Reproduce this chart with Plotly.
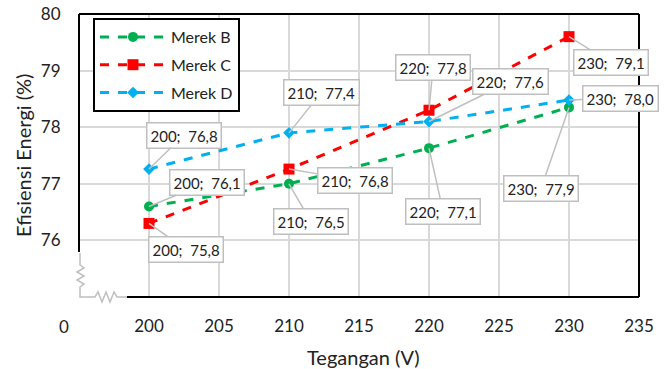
import plotly.graph_objects as go

voltage = [200, 210, 220, 230]
merek_b = [76.6, 77.0, 77.63, 78.35]
merek_c = [76.3, 77.26, 78.3, 79.6]
merek_d = [77.26, 77.9, 78.1, 78.48]
labels_b = ["200; 76,1", "210; 76,5", "220; 77,1", "230; 77,9"]
labels_c = ["200; 75,8", "210; 76,8", "220; 77,8", "230; 79,1"]
labels_d = ["200; 76,8", "210; 77,4", "220; 77,6", "230; 78,0"]
x_ticks = [200, 205, 210, 215, 220, 225, 230, 235]
y_ticks = [76, 77, 78, 79, 80]

# label box offsets (pixels) from points
off_b = [(58, -24), (22, 38), (14, 63), (-28, 81)]
off_c = [(37, 26), (66, 11), (4, -43), (42, 26)]
off_d = [(35, -34), (32, -40), (81, -40), (51, -2)]

FONT = "Lato, 'Open Sans', sans-serif"
fig = go.Figure()
series = [
    ("Merek B", merek_b, "#00B050", "circle", 10),
    ("Merek C", merek_c, "#FF0000", "square", 11),
    ("Merek D", merek_d, "#00B0F0", "diamond", 9),
]
for name, vals, col, sym, ms in series:
    fig.add_trace(go.Scatter(
        x=voltage, y=vals, name=name, mode="lines+markers", legendgroup=name,
        line=dict(color=col, width=3, dash="dash"),
        marker=dict(color=col, symbol=sym, size=ms),
    ))

annotations = []
for vals, labs, offs in [(merek_b, labels_b, off_b), (merek_c, labels_c, off_c), (merek_d, labels_d, off_d)]:
    for xv, yv, lab, (ax, ay) in zip(voltage, vals, labs, offs):
        annotations.append(dict(
            x=xv, y=yv, xref="x", yref="y", text=lab.replace("; ", ";\u00a0 "),
            showarrow=True, arrowhead=0, arrowwidth=1.5, arrowcolor="#BFBFBF",
            ax=ax, ay=ay, bgcolor="white", bordercolor="#BFBFBF", borderwidth=1.5,
            borderpad=3, font=dict(family=FONT, size=15, color="#222"),
        ))

L, R, T, B = 79, 639, 14, 297
W, H = 671, 369
def px(x):
    return (x - L) / (R - L)
def py(y):
    return 1 - (y - T) / (B - T)

annotations += [
    dict(x=px(64), y=py(326), xref="paper", yref="paper", text="0", showarrow=False,
         xanchor="center", yanchor="middle", font=dict(family=FONT, size=17, color="#222")),
    dict(x=px(363), y=py(357), xref="paper", yref="paper", text="Tegangan (V)", showarrow=False,
         xanchor="center", yanchor="middle", font=dict(family=FONT, size=20, color="#222")),
    dict(x=px(23), y=py(156), xref="paper", yref="paper", text="Efisiensi Energi (%)", showarrow=False,
         xanchor="center", yanchor="middle",
         textangle=-90, font=dict(family=FONT, size=20, color="#222")),
]

blk = dict(color="black", width=2)
gry = dict(color="#BFBFBF", width=1.5)
shapes = [
    dict(type="line", xref="paper", yref="paper", x0=0, x1=1, y0=1, y1=1, line=blk),
    dict(type="line", xref="paper", yref="paper", x0=1, x1=1, y0=0, y1=1, line=blk),
    dict(type="line", xref="paper", yref="paper", x0=0, x1=0, y0=py(252), y1=1, line=blk),
    dict(type="line", xref="paper", yref="paper", x0=px(127), x1=1, y0=0, y1=0, line=blk),
]
# axis break zigzags (gray)
vpath = "M {:.4f},{:.4f} L {:.4f},{:.4f}".format(px(80), py(253), px(80), py(265))
zz = [(84, 268), (77, 272), (84, 276), (77, 280), (84, 284), (80, 287), (80, 297), (95, 297)]
for xx, yy in zz:
    vpath += " L {:.4f},{:.4f}".format(px(xx), py(yy))
hz = [(98, 292), (102, 302), (106, 292), (110, 302), (114, 292), (117, 297), (127, 297)]
for xx, yy in hz:
    vpath += " L {:.4f},{:.4f}".format(px(xx), py(yy))
shapes.append(dict(type="path", xref="paper", yref="paper", path=vpath, line=gry))

fig.update_layout(
    width=W, height=H,
    margin=dict(l=L, r=W - R, t=T, b=H - B),
    paper_bgcolor="white", plot_bgcolor="white",
    showlegend=True,
    legend=dict(x=px(93), y=py(18), xanchor="left", yanchor="top",
                bordercolor="black", borderwidth=2, bgcolor="white",
                font=dict(family=FONT, size=16, color="#222"),
                tracegroupgap=4, itemwidth=66),
    annotations=annotations, shapes=shapes,
    font=dict(family=FONT, size=17, color="#222"),
)
fig.update_xaxes(range=[195, 235], tickvals=x_ticks, showgrid=True, gridcolor="#D9D9D9",
                 gridwidth=1.5, zeroline=False, showline=False, automargin=False,
                 ticks="outside", ticklen=14, tickcolor="rgba(0,0,0,0)",
                 tickfont=dict(family=FONT, size=17, color="#222"))
fig.update_yaxes(range=[75, 80], tickvals=y_ticks, showgrid=True, gridcolor="#D9D9D9",
                 gridwidth=1.5, zeroline=False, showline=False, automargin=False,
                 ticks="outside", ticklen=14, tickcolor="rgba(0,0,0,0)",
                 tickfont=dict(family=FONT, size=17, color="#222"))

fig.write_html("out.html")
